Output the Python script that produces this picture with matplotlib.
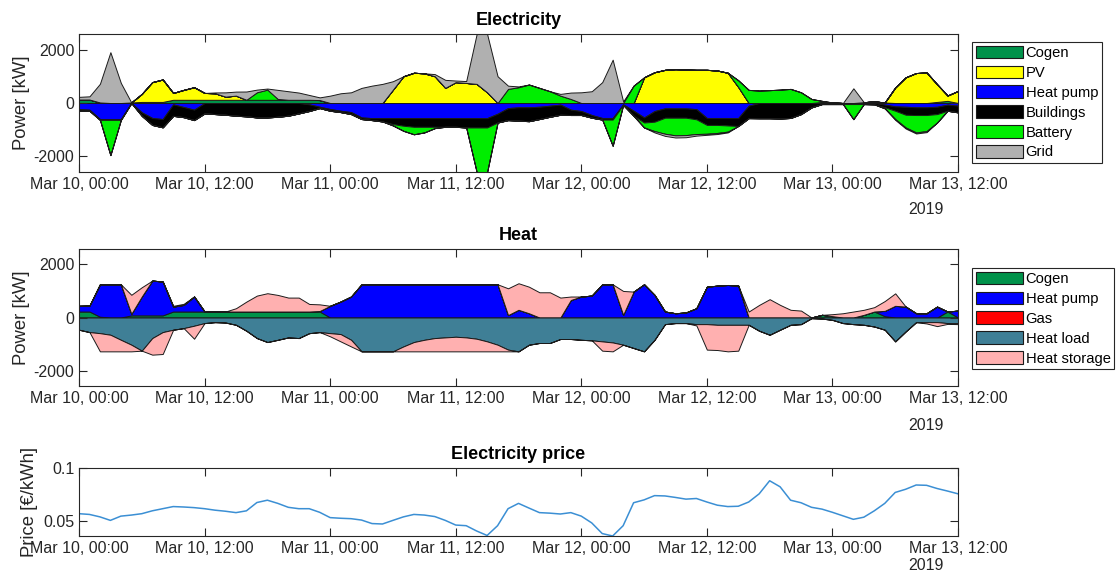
import numpy as np
import matplotlib
matplotlib.use("Agg")
import matplotlib.pyplot as plt
from matplotlib.patches import Patch
from matplotlib.ticker import FormatStrFormatter

plt.rcParams['font.family'] = ['Liberation Sans', 'DejaVu Sans']
plt.rcParams['axes.unicode_minus'] = False

# ---------------- data ----------------
hours = np.arange(85)  # hours since Mar 10, 00:00 (2019)
tick_hours = [0, 12, 24, 36, 48, 60, 72, 84]
tick_labels = ['Mar 10, 00:00', 'Mar 10, 12:00', 'Mar 11, 00:00', 'Mar 11, 12:00',
               'Mar 12, 00:00', 'Mar 12, 12:00', 'Mar 13, 00:00', 'Mar 13, 12:00']
year_label = '2019'

el_names = ['Cogen', 'PV', 'Heat pump', 'Buildings', 'Battery', 'Grid']
el_cogen = [130,130,20,0,0,20,40,40,40,120,120,120,
            120,120,120,120,120,120,120,120,120,120,120,110,
            0,0,0,0,0,0,0,0,0,0,0,0,
            0,0,0,0,0,0,0,0,0,0,0,0,
            0,0,0,0,0,0,0,0,0,0,0,0,
            0,0,0,0,0,0,0,0,0,0,0,40,
            20,0,0,30,60,20,0,0,0,0,40,80,0]
el_pv = [0,0,0,0,0,0,300,740,840,256,370,470,
         256,244,118,156,0,0,0,0,0,0,0,0,
         0,0,0,0,0,0,500,1000,1130,1110,1000,565,
         780,750,715,400,0,0,0,0,0,0,0,0,
         0,0,0,0,0,0,960,1150,1240,1265,1250,1240,
         1240,1215,1130,600,0,0,0,0,0,0,0,0,
         0,0,0,0,0,0,580,960,1120,1140,660,200,450]
el_heatpump = [-230,-250,-600,-600,-600,0,-350,-560,-600,-50,-150,-250,
               0,0,0,0,0,0,0,0,0,0,-50,-140,
               -225,-290,-340,-540,-565,-565,-565,-565,-565,-565,-565,-565,
               -565,-565,-565,-565,-400,-190,-160,-160,-140,-100,-60,-250,
               -300,-450,-560,-560,-50,-290,-540,-300,-200,-200,-200,-230,
               -560,-560,-560,-560,-100,0,0,0,0,0,0,0,
               0,0,0,0,0,-60,-125,-140,-160,-160,-140,-60,-100]
el_buildings = [-60,-40,-30,-30,-30,0,-130,-260,-310,-430,-380,-390,
                -390,-414,-440,-475,-500,-540,-540,-515,-475,-390,-250,-50,
                -65,-50,-75,-60,-75,-125,-225,-285,-325,-325,-325,-325,
                -325,-350,-350,-350,-330,-450,-500,-520,-460,-415,-380,-200,
                -150,-100,-60,-60,-20,-190,-190,-400,-350,-350,-350,-380,
                -260,-260,-280,-300,-465,-570,-570,-580,-560,-415,-165,-40,
                -40,-40,-40,-40,-50,-100,-165,-300,-290,-290,-275,-230,-250]
el_battery = [0,0,0,-1320,0,0,0,0,0,0,0,0,
              0,0,0,0,0,280,380,30,0,0,0,0,
              0,0,0,0,0,0,-50,-190,-280,-210,-50,0,
              0,0,-1665,-1665,0,527,590,690,565,440,275,150,
              0,0,0,-980,0,650,-185,-350,-600,-660,-650,-550,
              -330,-300,-230,250,490,465,480,500,527,400,150,40,
              0,0,-565,0,0,-40,-310,-475,-650,-600,-315,0,0]
el_grid = [100,120,700,1900,750,0,0,0,0,0,0,0,
           0,30,160,150,310,100,40,340,320,270,180,100,
           275,364,400,565,650,715,315,0,0,0,80,300,
           60,70,1865,2180,1000,120,30,0,0,0,65,240,
           400,440,780,1620,60,0,0,-50,-80,-80,-80,-60,
           -40,-40,-30,0,0,0,0,0,0,0,0,0,
           0,0,550,0,0,0,-30,-40,-40,-40,0,0,0]

heat_names = ['Cogen', 'Heat pump', 'Gas', 'Heat load', 'Heat storage']
ht_cogen = [225,225,30,0,0,80,80,80,80,225,225,225,
            225,225,225,225,225,225,225,225,225,225,225,225,
            0,0,0,0,0,0,0,0,0,0,0,0,
            0,0,0,0,0,0,0,0,0,0,0,0,
            0,0,0,0,0,0,0,0,0,0,0,0,
            0,0,0,0,0,0,0,0,0,0,0,100,
            50,0,0,100,225,50,0,0,0,0,0,225,0]
ht_heatpump = [215,225,1220,1250,1250,60,710,1310,1275,185,250,565,
               0,0,0,0,0,0,0,0,0,0,0,20,
               440,600,790,1250,1250,1250,1250,1250,1250,1250,1250,1250,
               1250,1250,1250,1250,1250,90,290,160,0,0,0,660,
               790,825,1250,1250,100,975,1250,850,225,160,190,350,
               1160,1200,1225,1200,0,0,0,0,0,0,0,0,
               0,0,0,0,0,200,440,410,160,160,410,0,260]
ht_gas = [0] * 85
ht_load = [-460,-550,-590,-650,-840,-1025,-1250,-775,-550,-460,-400,-310,
           -210,-175,-190,-275,-500,-775,-925,-840,-750,-775,-590,-550,
           -590,-625,-840,-1275,-1275,-1275,-1275,-1090,-925,-840,-775,-750,
           -725,-750,-800,-900,-1025,-1210,-1275,-1025,-960,-960,-810,-810,
           -840,-860,-900,-940,-1025,-1150,-1275,-840,-250,-210,-210,-250,
           -250,-275,-275,-275,-275,-500,-650,-460,-275,-250,-25,-40,
           -90,-210,-250,-275,-340,-460,-900,-525,-175,-175,-175,-210,-210]
ht_storage_discharge = [0,0,0,0,0,715,350,0,0,30,40,0,
                        0,0,0,125,375,600,690,625,525,525,285,250,
                        0,0,0,0,0,0,0,0,0,0,0,0,
                        0,0,0,0,0,1010,1000,1000,950,950,750,130,
                        0,0,0,0,900,0,0,0,0,0,0,0,
                        0,0,0,0,225,475,690,475,290,260,0,0,
                        75,160,225,190,165,370,470,0,0,0,0,0,0]
ht_storage_charge = [0,0,-685,-625,-435,-250,0,-625,-825,0,0,-490,
                     0,0,0,0,0,0,0,0,0,0,0,0,
                     -120,-275,-250,0,0,0,0,-185,-350,-435,-500,-525,
                     -550,-525,-475,-375,-250,-65,0,0,0,0,0,0,
                     0,0,-350,-335,0,0,0,0,0,0,0,-50,
                     -960,-950,-1000,-975,0,0,0,0,0,0,0,0,
                     0,0,0,0,0,0,0,0,0,-50,-150,-30,-40]

price = [0.0570,0.0563,0.0540,0.0507,0.0547,0.0557,0.0570,0.0597,0.0617,0.0637,0.0633,0.0627,
         0.0617,0.0603,0.0593,0.0580,0.0597,0.0675,0.0697,0.0667,0.0630,0.0617,0.0617,0.0583,
         0.0533,0.0527,0.0523,0.0510,0.0477,0.0473,0.0507,0.0540,0.0563,0.0557,0.0543,0.0507,
         0.0463,0.0457,0.0407,0.0365,0.0457,0.0617,0.0667,0.0623,0.0580,0.0575,0.0567,0.0580,
         0.0547,0.0483,0.0383,0.0360,0.0457,0.0673,0.0700,0.0740,0.0737,0.0723,0.0707,0.0713,
         0.0680,0.0650,0.0637,0.0640,0.0680,0.0757,0.0880,0.0823,0.0697,0.0673,0.0630,0.0613,
         0.0583,0.0550,0.0517,0.0537,0.0597,0.0667,0.0770,0.0800,0.0840,0.0837,0.0807,0.0783,0.0757]

# ---------------- style ----------------
el_colors = ['#00924a', '#ffff00', '#0000ff', '#000000', '#00ee00', '#b0b0b0']
heat_colors = ['#00924a', '#0000ff', '#ff0000', '#3f7f96', '#ffb0b0']
price_color = '#3b8fd4'
axis_col = '#262626'
TICK_FS = 11.5
LABEL_FS = 13.3
TITLE_FS = 13
LEG_FS = 10.6

W, H = 1118, 575
fig = plt.figure(figsize=(W / 100, H / 100), dpi=100)

def rect(left, top, right, bottom):
    return [left / W, 1 - bottom / H, (right - left) / W, (bottom - top) / H]

ax1 = fig.add_axes(rect(79, 34, 958, 172))
ax2 = fig.add_axes(rect(79, 249, 958, 386))
ax3 = fig.add_axes(rect(79, 468, 958, 536))

def style_axes(ax):
    for sp in ax.spines.values():
        sp.set_color(axis_col)
        sp.set_linewidth(0.8)
    ax.tick_params(direction='in', top=True, right=True, length=6, width=0.8,
                   labelsize=TICK_FS, pad=3.5, colors=axis_col, labelcolor=axis_col)
    ax.set_xlim(hours[0], hours[-1])
    ax.set_xticks(tick_hours)
    ax.set_xticklabels(tick_labels)

# Electricity
el_series = [np.array(s, float) for s in (el_cogen, el_pv, el_heatpump, el_buildings, el_battery, el_grid)]
el_pos = [np.clip(s, 0, None) for s in el_series]
el_neg = [np.clip(s, None, 0) for s in el_series]
ax1.stackplot(hours, *el_pos, colors=el_colors, edgecolor='#1a1a1a', linewidth=0.7)
ax1.stackplot(hours, *el_neg, colors=el_colors, edgecolor='#1a1a1a', linewidth=0.7)
ymax = max(np.sum(el_pos, axis=0).max(), -np.sum(el_neg, axis=0).min())

# Heat
ht_series = [np.array(s, float) for s in (ht_cogen, ht_heatpump, ht_gas, ht_load)]
ht_pos = [np.clip(s, 0, None) for s in ht_series] + [np.array(ht_storage_discharge, float)]
ht_neg = [np.clip(s, None, 0) for s in ht_series] + [np.array(ht_storage_charge, float)]
ax2.stackplot(hours, *ht_pos, colors=heat_colors, edgecolor='#1a1a1a', linewidth=0.7)
ax2.stackplot(hours, *ht_neg, colors=heat_colors, edgecolor='#1a1a1a', linewidth=0.7)

for ax, title in ((ax1, 'Electricity'), (ax2, 'Heat')):
    style_axes(ax)
    ax.set_ylim(-ymax, ymax)
    ax.set_yticks([-2000, 0, 2000])
    ax.set_ylabel('Power [kW]', fontsize=LABEL_FS, color=axis_col)
    ax.yaxis.set_label_coords((30 - 79) / 879, 0.5)
    ax.set_title(title, fontsize=TITLE_FS, fontweight='bold', pad=6.5, color='black')

# Price
ax3.plot(hours, price, color=price_color, linewidth=1.1)
style_axes(ax3)
ax3.set_ylim(min(price), 0.1)
ax3.set_yticks([0.05, 0.1])
ax3.yaxis.set_major_formatter(FormatStrFormatter('%g'))
ax3.set_ylabel('Price [€/kWh]', fontsize=LABEL_FS, color=axis_col)
ax3.yaxis.set_label_coords((38 - 79) / 879, 0.5)
ax3.set_title('Electricity price', fontsize=TITLE_FS, fontweight='bold', pad=6.5, color='black')

# year labels
for ypix in (210, 425, 566):
    fig.text(926 / W, 1 - ypix / H, year_label, ha='center', va='center',
             fontsize=TICK_FS, color=axis_col)

# legends
def make_legend(ax, names, colors, top_pix):
    handles = [Patch(facecolor=c, edgecolor='#1a1a1a', linewidth=0.8) for c in colors]
    leg = ax.legend(handles, names, loc='upper left',
                    bbox_to_anchor=(972 / W, 1 - top_pix / H), bbox_transform=fig.transFigure,
                    borderaxespad=0, fontsize=LEG_FS, frameon=True, fancybox=False,
                    framealpha=1, edgecolor=axis_col, handlelength=3.2, handleheight=0.95,
                    handletextpad=0.2, labelspacing=0.37, borderpad=0.25)
    leg.get_frame().set_linewidth(0.8)
    return leg

make_legend(ax1, el_names, el_colors, 42)
make_legend(ax2, heat_names, heat_colors, 268)

fig.savefig('out.png', dpi=100)
